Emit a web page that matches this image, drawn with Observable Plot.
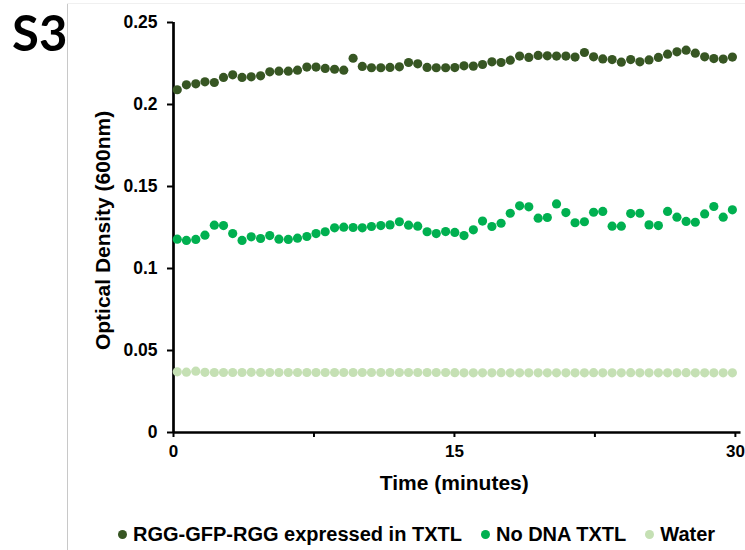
<!DOCTYPE html>
<html>
<head>
<meta charset="utf-8">
<script src="https://cdn.jsdelivr.net/npm/d3@7"></script>
<script src="https://cdn.jsdelivr.net/npm/@observablehq/plot@0.6"></script>
<style>
  html, body { margin: 0; padding: 0; background: #fff; }
  #wrap { position: relative; width: 745px; height: 550px; overflow: hidden; font-family: "Liberation Sans", Arial, sans-serif; }
  #tag { position: absolute; left: 12px; top: 8px; font-family: Lato, "Open Sans", sans-serif; font-weight: 700; font-size: 49px; color: #000; line-height: 1; }
  #vline { position: absolute; left: 67px; top: 3px; width: 1px; height: 547px; background: #c8c8c8; }
  #hline { position: absolute; left: 67px; top: 3px; width: 678px; height: 1px; background: #f0f0f0; }
  #chart { position: absolute; left: 0; top: 0; }
  #legend { position: absolute; left: 118px; top: 523px; display: flex; align-items: center; font-weight: 700; font-size: 20px; color: #000; white-space: nowrap; }
  .item { display: flex; align-items: center; margin-right: 19px; }
  .sw { width: 9px; height: 9px; border-radius: 50%; margin-right: 6px; }
</style>
</head>
<body>
<div id="wrap">
  <div id="vline"></div>
  <div id="hline"></div>
  <div id="chart"></div>
  <div id="tag">S3</div>
  <div id="legend"></div>
</div>
<script>
// Time points (minutes)
const times = [0.20,0.69,1.19,1.68,2.18,2.67,3.16,3.66,4.15,4.65,5.14,5.63,6.13,6.62,7.12,7.61,8.10,8.60,9.09,9.59,10.08,10.57,11.07,11.56,12.06,12.55,13.04,13.54,14.03,14.53,15.02,15.51,16.01,16.50,17.00,17.49,17.98,18.48,18.97,19.47,19.96,20.45,20.95,21.44,21.94,22.43,22.92,23.42,23.91,24.41,24.90,25.39,25.89,26.38,26.88,27.37,27.86,28.36,28.85,29.35,29.84];

// Series: optical density (600nm)
const rggGfpRgg = [0.2090,0.2120,0.2126,0.2138,0.2134,0.2165,0.2181,0.2165,0.2169,0.2175,0.2199,0.2203,0.2203,0.2209,0.2228,0.2228,0.2220,0.2215,0.2209,0.2282,0.2232,0.2224,0.2224,0.2226,0.2230,0.2256,0.2248,0.2226,0.2224,0.2224,0.2225,0.2236,0.2234,0.2244,0.2260,0.2256,0.2270,0.2295,0.2287,0.2299,0.2297,0.2295,0.2295,0.2289,0.2317,0.2291,0.2278,0.2274,0.2258,0.2274,0.2260,0.2272,0.2287,0.2307,0.2321,0.2331,0.2313,0.2291,0.2280,0.2277,0.2289];
const noDna = [0.1179,0.1171,0.1177,0.1203,0.1264,0.1262,0.1213,0.1171,0.1193,0.1183,0.1201,0.1179,0.1177,0.1185,0.1195,0.1213,0.1224,0.1248,0.1252,0.1250,0.1248,0.1256,0.1262,0.1266,0.1285,0.1264,0.1258,0.1224,0.1213,0.1225,0.1220,0.1201,0.1236,0.1289,0.1256,0.1276,0.1337,0.1382,0.1376,0.1307,0.1311,0.1394,0.1341,0.1279,0.1285,0.1343,0.1348,0.1258,0.1258,0.1335,0.1337,0.1266,0.1262,0.1348,0.1313,0.1287,0.1282,0.1333,0.1378,0.1313,0.1358];
const water = [0.0370,0.0368,0.0374,0.0367,0.0366,0.0366,0.0366,0.0366,0.0367,0.0366,0.0366,0.0366,0.0366,0.0366,0.0366,0.0366,0.0366,0.0366,0.0366,0.0366,0.0366,0.0366,0.0366,0.0366,0.0366,0.0366,0.0366,0.0366,0.0366,0.0366,0.0365,0.0364,0.0364,0.0364,0.0364,0.0365,0.0364,0.0364,0.0364,0.0364,0.0364,0.0364,0.0364,0.0364,0.0364,0.0365,0.0364,0.0364,0.0364,0.0365,0.0364,0.0364,0.0364,0.0364,0.0364,0.0365,0.0364,0.0364,0.0364,0.0364,0.0364];

const seriesNames = ["RGG-GFP-RGG expressed in TXTL", "No DNA TXTL", "Water"];
const seriesColors = ["#375623", "#00B050", "#C5E0B4"];
const xTicks = [0, 7.5, 15, 22.5, 30];
const xTickLabels = {0: "0", 15: "15", 30: "30"};
const yTicks = [0, 0.05, 0.1, 0.15, 0.2, 0.25];
const yTickLabels = ["0", "0.05", "0.1", "0.15", "0.2", "0.25"];

const allSeries = [rggGfpRgg, noDna, water];
const data = [];
allSeries.forEach((vals, si) => {
  vals.forEach((v, i) => data.push({t: times[i], od: v, s: seriesNames[si]}));
});

const font = "'Liberation Sans', Arial, sans-serif";

const chart = Plot.plot({
  width: 745,
  height: 510,
  marginLeft: 173,
  marginRight: 4.5,
  marginTop: 22,
  marginBottom: 78,
  style: {fontFamily: font, background: "transparent", overflow: "visible"},
  x: {domain: [0, 30.3], axis: null},
  y: {domain: [0, 0.25], axis: null},
  color: {domain: seriesNames, range: seriesColors},
  marks: [
    Plot.axisX({ticks: xTicks, tickFormat: d => xTickLabels[d] ?? "", tickSize: 5, tickPadding: 7, strokeWidth: 2, fontSize: 17, fontWeight: "bold", fill: "#000", label: null}),
    Plot.axisY({ticks: yTicks, tickFormat: (d, i) => yTickLabels[i], tickSize: 6, tickPadding: 10, strokeWidth: 2, fontSize: 17.5, fontWeight: "bold", fill: "#000", label: null}),
    Plot.ruleX([0], {stroke: "#000", strokeWidth: 2.7}),
    Plot.ruleY([0], {stroke: "#000", strokeWidth: 2.7}),
    Plot.dot(data, {x: "t", y: "od", fill: "s", r: 4.6, stroke: null}),
    Plot.text(["Time (minutes)"], {frameAnchor: "bottom", dx: -3, dy: 51, lineAnchor: "middle", fontSize: 21, fontWeight: "bold", fill: "#000"}),
    Plot.text(["Optical Density (600nm)"], {frameAnchor: "left", dx: -70, dy: 3, rotate: -90, lineAnchor: "middle", textAnchor: "middle", fontSize: 21, fontWeight: "bold", fill: "#000"})
  ]
});
document.getElementById("chart").appendChild(chart);

const legend = document.getElementById("legend");
seriesNames.forEach((name, i) => {
  const item = document.createElement("div");
  item.className = "item";
  const sw = document.createElement("span");
  sw.className = "sw";
  sw.style.background = seriesColors[i];
  const label = document.createElement("span");
  label.textContent = name;
  item.appendChild(sw);
  item.appendChild(label);
  legend.appendChild(item);
});
</script>
</body>
</html>
